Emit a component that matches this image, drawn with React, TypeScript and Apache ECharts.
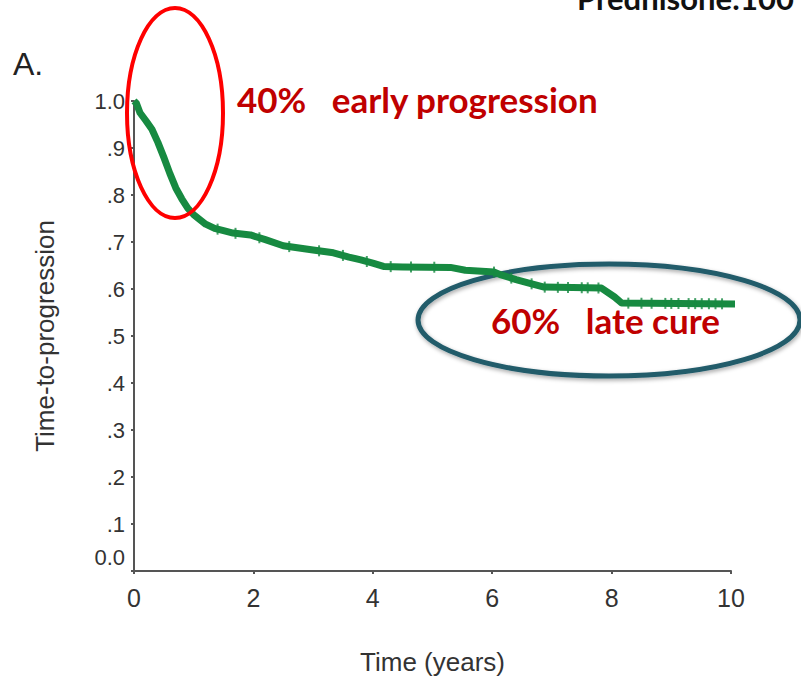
import React, { useEffect, useRef } from "react";
import * as echarts from "echarts";

// Kaplan–Meier time-to-progression curve (years vs. proportion progression-free)
const years = [0, 0.04, 0.1, 0.2, 0.3, 0.4, 0.5, 0.6, 0.7, 0.8, 0.9, 1.0, 1.1, 1.2, 1.35, 1.5, 1.66, 1.95, 2.2, 2.5, 3.0, 3.34, 3.6, 3.8, 4.0, 4.18, 4.5, 5.3, 5.55, 6.03, 6.15, 6.4, 6.6, 6.87, 7.83, 8.05, 8.17, 10.4];
const survival = [1.0, 0.995, 0.975, 0.958, 0.94, 0.912, 0.88, 0.846, 0.815, 0.792, 0.772, 0.758, 0.748, 0.738, 0.729, 0.724, 0.719, 0.715, 0.705, 0.692, 0.683, 0.677, 0.668, 0.662, 0.655, 0.648, 0.647, 0.646, 0.64, 0.636, 0.63, 0.62, 0.613, 0.604, 0.602, 0.583, 0.57, 0.568];

// censored observations (tick marks on the curve)
const censorYears = [1.4, 1.7, 2.1, 2.6, 3.1, 3.5, 3.9, 4.3, 4.64, 5.03, 6.03, 6.32, 6.66, 6.88, 7.1, 7.27, 7.5, 7.6, 7.78, 8.28, 8.5, 8.67, 8.9, 9.0, 9.12, 9.29, 9.4, 9.51, 9.63, 9.74, 9.85];

const xTicks = [0, 2, 4, 6, 8, 10];
const yTickLabels = ["0.0", ".1", ".2", ".3", ".4", ".5", ".6", ".7", ".8", ".9", "1.0"];

const earlyLabel = "40%   early progression";
const lateLabel = "60%   late cure";
const panelLabel = "A.";
const headerLabel = "Prednisone:100";

const GREEN = "#178a41";
const AXIS = "#555555";
const LABEL = "#333333";
const DARK_RED = "#c00000";

function survivalAt(t: number): number {
  for (let i = 1; i < years.length; i++) {
    if (t <= years[i]) {
      const f = (t - years[i - 1]) / (years[i] - years[i - 1]);
      return survival[i - 1] + f * (survival[i] - survival[i - 1]);
    }
  }
  return survival[survival.length - 1];
}

export default function App() {
  const ref = useRef<HTMLDivElement>(null);

  useEffect(() => {
    if (!ref.current) return;
    const chart = echarts.init(ref.current, undefined, { renderer: "svg" });
    const curve = years.map((t, i) => [t, survival[i]]);
    const censors = censorYears.map((t) => [t, survivalAt(t)]);

    chart.setOption({
      animation: false,
      backgroundColor: "#ffffff",
      grid: {
        left: 134,
        right: 70,
        top: 101,
        bottom: 105,
        containLabel: false,
        outerBoundsMode: "none",
      },
      xAxis: {
        type: "value",
        min: 0,
        max: 10,
        interval: 2,
        name: "Time (years)",
        nameLocation: "middle",
        nameGap: 78,
        nameTextStyle: { fontFamily: "Liberation Sans", fontSize: 26, color: LABEL },
        axisLine: { lineStyle: { color: AXIS, width: 2 } },
        axisTick: { show: true, length: 3, lineStyle: { color: AXIS, width: 2 } },
        axisLabel: {
          fontFamily: "Liberation Sans",
          fontSize: 25,
          color: LABEL,
          margin: 14,
          formatter: (v: number) => (xTicks.includes(v) ? String(v) : ""),
        },
        splitLine: { show: false },
      },
      yAxis: {
        type: "value",
        min: 0,
        max: 1,
        interval: 0.1,
        name: "Time-to-progression",
        nameLocation: "middle",
        nameGap: 76,
        nameTextStyle: { fontFamily: "Liberation Sans", fontSize: 26, color: LABEL },
        axisLine: { show: true, lineStyle: { color: AXIS, width: 2 } },
        axisTick: { show: true, length: 3, lineStyle: { color: AXIS, width: 2 } },
        axisLabel: {
          fontFamily: "Liberation Sans",
          fontSize: 22,
          color: LABEL,
          margin: 9,
          formatter: (v: number) => {
            const idx = Math.round(v * 10);
            return idx === 0 ? "{z|" + yTickLabels[0] + "}" : yTickLabels[idx];
          },
          rich: {
            z: { fontFamily: "Liberation Sans", fontSize: 22, color: LABEL, padding: [0, 0, 28, 0] },
          },
        },
        splitLine: { show: false },
      },
      series: [
        {
          type: "line",
          data: curve,
          clip: false,
          showSymbol: false,
          symbol: "none",
          lineStyle: { color: GREEN, width: 7, join: "round" },
          z: 3,
        },
        {
          type: "scatter",
          data: censors,
          clip: false,
          symbol: "rect",
          symbolSize: [2, 11],
          itemStyle: { color: GREEN },
          z: 4,
        },
      ],
      graphic: [
        {
          type: "ellipse",
          shape: { cx: 609, cy: 320, rx: 191, ry: 56 },
          style: {
            fill: "none",
            stroke: "#215b6b",
            lineWidth: 5,
            shadowBlur: 4,
            shadowColor: "rgba(0,0,0,0.35)",
            shadowOffsetX: 1,
            shadowOffsetY: 2,
          },
          z: 1,
        },
        {
          type: "ellipse",
          shape: { cx: 175, cy: 113, rx: 48, ry: 105 },
          style: { fill: "none", stroke: "#ff0000", lineWidth: 4 },
          z: 100,
        },
        {
          type: "text",
          x: 237,
          y: 99,
          style: {
            text: earlyLabel,
            fill: DARK_RED,
            font: "bold 35px Lato",
            verticalAlign: "middle",
          },
          z: 100,
        },
        {
          type: "text",
          x: 491,
          y: 320,
          style: {
            text: lateLabel,
            fill: DARK_RED,
            font: "bold 35px Lato",
            verticalAlign: "middle",
          },
          z: 100,
        },
        {
          type: "text",
          x: 13,
          y: 64,
          style: {
            text: panelLabel,
            fill: "#222222",
            font: "32px 'Liberation Sans'",
            verticalAlign: "middle",
          },
          z: 100,
        },
        {
          type: "text",
          x: 577,
          y: 13,
          style: {
            text: headerLabel,
            fill: "#111111",
            font: "bold 31px Lato",
            verticalAlign: "bottom",
          },
          z: 100,
        },
      ],
    });
    return () => chart.dispose();
  }, []);

  return (
    <div
      ref={ref}
      style={{ position: "fixed", left: 0, top: 0, width: 801, height: 676 }}
    />
  );
}
